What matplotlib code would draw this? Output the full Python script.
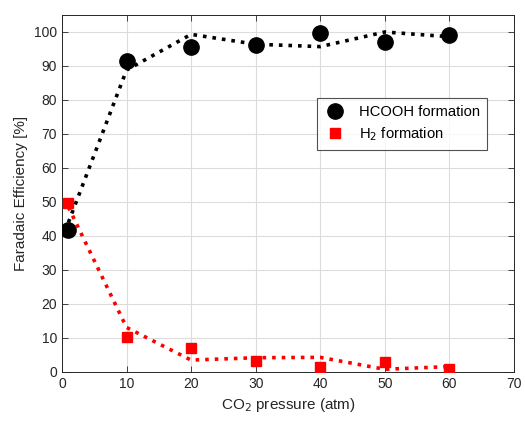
import matplotlib

matplotlib.use("Agg")
import matplotlib.pyplot as plt

plt.rcParams["font.family"] = ["Liberation Sans", "DejaVu Sans"]

# CO2 pressure (atm)
pressure = [1, 10, 20, 30, 40, 50, 60]

# measured Faradaic efficiencies (%)
fe_hcooh = [41.8, 91.5, 95.6, 96.2, 99.6, 97.0, 99.1]
fe_h2 = [49.8, 10.2, 7.0, 3.2, 1.6, 3.0, 0.9]

# smoothed trend lines (%)
trend_hcooh = [44.0, 88.8, 99.3, 96.4, 95.7, 100.0, 98.6]
trend_h2 = [48.5, 13.1, 3.5, 4.2, 4.3, 0.8, 1.6]

xticks = [0, 10, 20, 30, 40, 50, 60, 70]
yticks = [0, 10, 20, 30, 40, 50, 60, 70, 80, 90, 100]

fig = plt.figure(figsize=(5.25, 4.21), dpi=100)
ax = fig.add_axes([0.118, 0.1164, 0.861, 0.848])

ax.plot(pressure, trend_hcooh, ":", color="black", lw=2.6, zorder=2)
ax.plot(pressure, trend_h2, ":", color="red", lw=2.6, zorder=2)
ax.plot(pressure, fe_hcooh, "o", color="black", ms=11, ls="none",
        label="HCOOH formation", zorder=3)
ax.plot(pressure, fe_h2, "s", color="red", ms=7.5, ls="none",
        label="H$_2$ formation", zorder=3)

ax.set_xlim(0, 70)
ax.set_ylim(0, 105)
ax.set_xticks(xticks)
ax.set_yticks(yticks)
ax.grid(True, color="#dcdcdc", lw=0.8)
ax.set_axisbelow(True)
ax.tick_params(direction="in", top=True, right=True, length=4,
               labelsize=10, colors="#262626", width=0.6)
for s in ax.spines.values():
    s.set_color("#262626")
    s.set_linewidth(0.7)

ax.set_xlabel("CO$_2$ pressure (atm)", fontsize=11, color="#262626")
ax.set_ylabel("Faradaic Efficiency [%]", fontsize=11, color="#262626")

leg = ax.legend(loc="upper left", bbox_to_anchor=(0.564, 0.767), fontsize=10.6,
                frameon=True, fancybox=False, edgecolor="#262626",
                borderaxespad=0, borderpad=0.45, handlelength=1.6,
                handletextpad=0.8, labelspacing=0.45)
leg.get_frame().set_linewidth(0.8)

fig.savefig("out.png", dpi=100)
